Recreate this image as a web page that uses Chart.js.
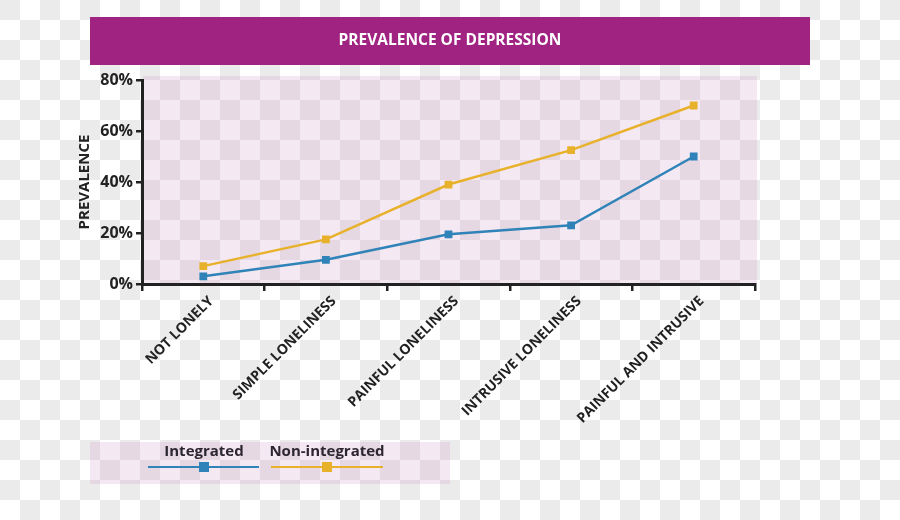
<!DOCTYPE html>
<html>
<head>
<meta charset="utf-8">
<script src="https://cdn.jsdelivr.net/npm/chart.js@4"></script>
<style>
  html, body { margin: 0; padding: 0; background: #fff; }
  #wrap { width: 900px; height: 520px; position: relative; }
</style>
</head>
<body>
<div id="wrap"><canvas id="chart" width="900" height="520"></canvas></div>
<script>
// data
const categories = ["NOT LONELY", "SIMPLE LONELINESS", "PAINFUL LONELINESS", "INTRUSIVE LONELINESS", "PAINFUL AND INTRUSIVE"];
const integrated = [3, 9.5, 19.5, 23, 50];
const nonIntegrated = [7, 17.5, 39, 52.5, 70];
const yTicks = [0, 20, 40, 60, 80];
const titleText = "PREVALENCE OF DEPRESSION";
const yTitle = "PREVALENCE";

const BLUE = "#2f83b8";
const YELLOW = "#e8b12c";
const FONT = "'Open Sans', 'DejaVu Sans', sans-serif";

// draws the transparent-png style checker
function checker(ctx, x0, y0, x1, y1, light, dark) {
    ctx.save();
    ctx.beginPath();
    ctx.rect(x0, y0, x1 - x0, y1 - y0);
    ctx.clip();
    ctx.fillStyle = light;
    ctx.fillRect(x0, y0, x1 - x0, y1 - y0);
    ctx.fillStyle = dark;
    for (let cy = Math.floor(y0 / 20); cy * 20 < y1; cy++) {
        for (let cx = Math.floor(x0 / 20); cx * 20 < x1; cx++) {
            if ((cx + cy) % 2 === 0) ctx.fillRect(cx * 20, cy * 20, 20, 20);
        }
    }
    ctx.restore();
}

const backdrop = {
    id: "backdrop",
    beforeDraw(chart) {
        const ctx = chart.ctx;
        const a = chart.chartArea;
        checker(ctx, 0, 0, chart.width, chart.height, "#ffffff", "#ebebeb");
        // title bar
        ctx.fillStyle = "#a02381";
        ctx.fillRect(90, 17, 720, 48);
        ctx.fillStyle = "#fff";
        ctx.font = "bold 15.5px " + FONT;
        ctx.textAlign = "center";
        ctx.textBaseline = "middle";
        ctx.fillText(titleText, 450, 41);
        // plot area
        checker(ctx, a.left + 1, a.top - 4, a.right + 2, a.bottom, "#f4e9f2", "#e6d8e2");
        // legend box
        checker(ctx, 90, 442, 450, 484, "#f4e9f2", "#e6d8e2");
    },
    afterDraw(chart) {
        const ctx = chart.ctx;
        const items = [
            {ds: chart.data.datasets[0], cx: 204, x0: 148, x1: 259},
            {ds: chart.data.datasets[1], cx: 327, x0: 271, x1: 383}
        ];
        ctx.save();
        items.forEach(it => {
            ctx.fillStyle = "#2b2630";
            ctx.font = "bold 15px " + FONT;
            ctx.textAlign = "center";
            ctx.textBaseline = "middle";
            ctx.fillText(it.ds.label, it.cx, 452);
            ctx.strokeStyle = it.ds.borderColor;
            ctx.lineWidth = 2;
            ctx.beginPath();
            ctx.moveTo(it.x0, 467);
            ctx.lineTo(it.x1, 467);
            ctx.stroke();
            ctx.fillStyle = it.ds.borderColor;
            ctx.fillRect(it.cx - 5, 462, 10, 10);
        });
        ctx.restore();
    }
};

new Chart(document.getElementById("chart"), {
    type: "line",
    data: {
        labels: categories,
        datasets: [
            {label: "Integrated", data: integrated, borderColor: BLUE, backgroundColor: BLUE,
             borderWidth: 2.5, pointStyle: "rect", pointRadius: 5.5, pointBorderWidth: 0, tension: 0},
            {label: "Non-integrated", data: nonIntegrated, borderColor: YELLOW, backgroundColor: YELLOW,
             borderWidth: 2.5, pointStyle: "rect", pointRadius: 5.5, pointBorderWidth: 0, tension: 0}
        ]
    },
    options: {
        responsive: false,
        animation: false,
        layout: {padding: {left: 72, right: 145, top: 80, bottom: 0}},
        plugins: {
            legend: {display: false},
            title: {display: false},
            tooltip: {enabled: false}
        },
        scales: {
            x: {
                offset: true,
                afterFit: s => { s.height = 236; },
                grid: {offset: true, drawOnChartArea: false, drawTicks: true, tickLength: 7, color: "#222", lineWidth: 2.5},
                border: {color: "#222", width: 3},
                ticks: {
                    minRotation: 45, maxRotation: 45, padding: 2, labelOffset: 8,
                    color: "#222", font: {family: FONT, size: 14, weight: "bold"}
                }
            },
            y: {
                min: 0, max: 80,
                afterFit: s => { s.width = 70; },
                afterBuildTicks: s => { s.ticks = yTicks.map(v => ({value: v})); },
                grid: {drawOnChartArea: false, drawTicks: true, tickLength: 6, color: "#222", lineWidth: 2.5},
                border: {color: "#222", width: 3},
                title: {display: true, text: yTitle, color: "#222", font: {family: FONT, size: 15, weight: "bold"}},
                ticks: {
                    padding: 3, color: "#222",
                    font: {family: FONT, size: 16, weight: "bold"},
                    callback: v => v + "%"
                }
            }
        }
    },
    plugins: [backdrop]
});
</script>
</body>
</html>
